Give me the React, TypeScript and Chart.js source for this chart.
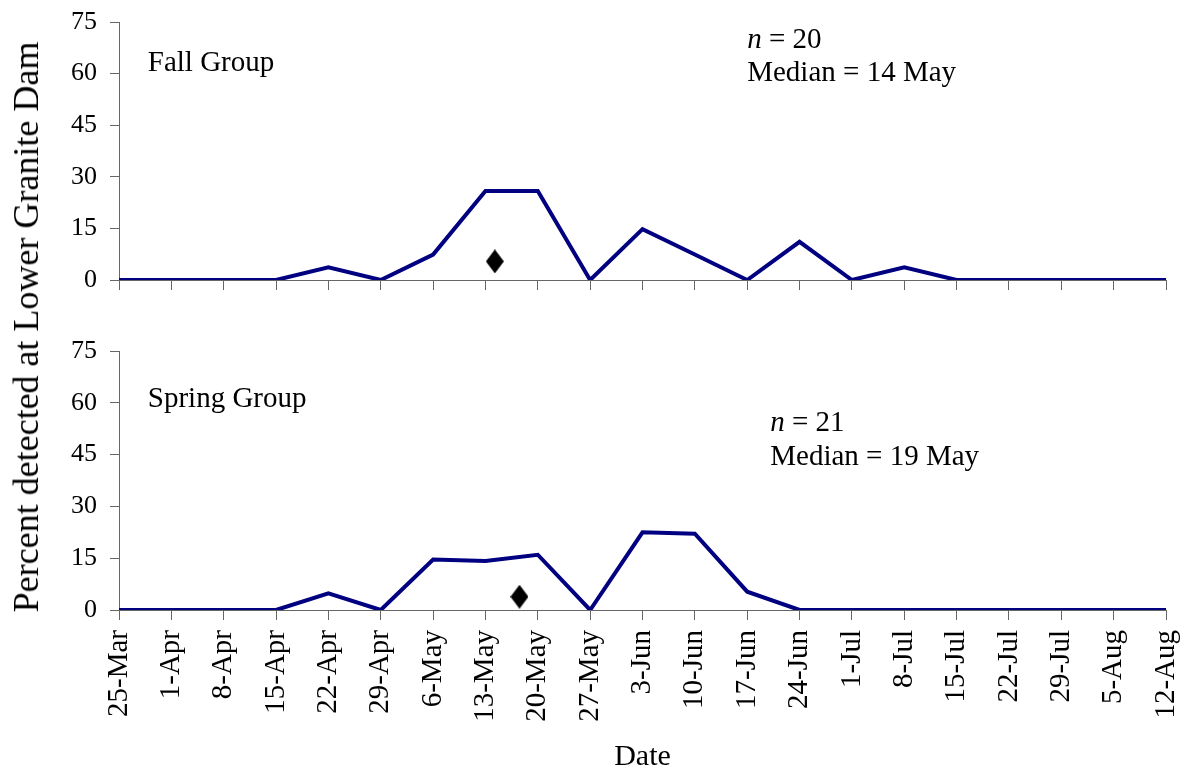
import React, { useEffect, useRef } from 'react';
import { Chart, registerables } from 'chart.js';

Chart.register(...registerables);

// ---- data ----
const dateLabels = [
  '25-Mar', '1-Apr', '8-Apr', '15-Apr', '22-Apr', '29-Apr', '6-May', '13-May', '20-May', '27-May',
  '3-Jun', '10-Jun', '17-Jun', '24-Jun', '1-Jul', '8-Jul', '15-Jul', '22-Jul', '29-Jul', '5-Aug', '12-Aug',
];
const fallValues = [0, 0, 0, 0, 3.7, 0, 7.4, 25.9, 25.9, 0, 14.8, 7.4, 0, 11.1, 0, 3.7, 0, 0, 0, 0, 0];
const springValues = [0, 0, 0, 0, 4.8, 0, 14.6, 14.2, 16.0, 0, 22.5, 22.1, 5.3, 0, 0, 0, 0, 0, 0, 0, 0];
const yTickValues = [0, 15, 30, 45, 60, 75];
// median markers (x in week index units, y in percent)
const fallMedianX = [7.18];
const fallMedianY = [5.4];
const springMedianX = [7.65];
const springMedianY = [3.85];

const fallGroupName = 'Fall Group';
const springGroupName = 'Spring Group';
const fallN = '20';
const springN = '21';
const fallMedianText = 'Median = 14 May';
const springMedianText = 'Median = 19 May';
const yTitle = 'Percent detected at Lower Granite Dam';
const xTitle = 'Date';

const FONT = "'Liberation Serif', 'Times New Roman', Times, serif";
const LINE_COLOR = '#000080';
const AXIS_COLOR = '#666666';

type Note = { x: number; y: number; text: string; italicPrefix?: string };

function makeDiamond(w: number, h: number) {
  const c = document.createElement('canvas');
  c.width = w;
  c.height = h;
  const g = c.getContext('2d')!;
  g.fillStyle = '#000';
  g.beginPath();
  g.moveTo(w / 2, 0);
  g.lineTo(w, h / 2);
  g.lineTo(w / 2, h);
  g.lineTo(0, h / 2);
  g.closePath();
  g.fill();
  return c;
}

function notesPlugin(notes: Note[]) {
  return {
    id: 'notes',
    afterDatasetsDraw(chart: any) {
      const { ctx, scales } = chart;
      ctx.save();
      ctx.fillStyle = '#000';
      ctx.textBaseline = 'alphabetic';
      ctx.textAlign = 'left';
      for (const n of notes) {
        let px = scales.x.getPixelForValue(n.x);
        const py = scales.y.getPixelForValue(n.y);
        if (n.italicPrefix) {
          ctx.font = `italic 29px ${FONT}`;
          ctx.fillText(n.italicPrefix, px, py);
          px += ctx.measureText(n.italicPrefix).width;
        }
        ctx.font = `29px ${FONT}`;
        ctx.fillText(n.text, px, py);
      }
      ctx.restore();
    },
  };
}

function zeroPadding(scale: any) {
  scale.paddingTop = 0;
  scale.paddingBottom = 0;
  scale.paddingLeft = 0;
  scale.paddingRight = 0;
}

function buildConfig(
  values: number[],
  medX: number[],
  medY: number[],
  notes: Note[],
  bottom: boolean,
  canvasHeight: number,
  chartBottom: number,
  topPad: number,
): any {
  const diamond = makeDiamond(18, 24);
  return {
    type: 'line',
    data: {
      datasets: [
        {
          data: values.map((v, i) => ({ x: i, y: v })),
          borderColor: LINE_COLOR,
          borderWidth: 4,
          pointRadius: 0,
          tension: 0,
          fill: false,
          borderJoinStyle: 'miter',
        },
        {
          data: medX.map((x, i) => ({ x, y: medY[i] })),
          showLine: false,
          pointStyle: diamond,
          pointRadius: 10,
          borderWidth: 0,
        },
      ],
    },
    options: {
      animation: false,
      responsive: false,
      events: [],
      layout: { padding: { top: topPad, left: 0, right: 20, bottom: 0 } },
      plugins: { legend: { display: false }, tooltip: { enabled: false } },
      scales: {
        x: {
          type: 'linear',
          min: 0,
          max: dateLabels.length - 1,
          afterBuildTicks: (scale: any) => {
            scale.ticks = dateLabels.map((_, i) => ({ value: i }));
          },
          afterFit: (scale: any) => {
            scale.height = canvasHeight - chartBottom;
            zeroPadding(scale);
          },
          ticks: {
            display: bottom,
            autoSkip: false,
            minRotation: 90,
            maxRotation: 90,
            padding: 10,
            color: '#000',
            font: { family: FONT, size: 29 },
            callback: (v: any) => dateLabels[Math.round(v)] ?? '',
          },
          grid: { display: true, drawOnChartArea: false, drawTicks: true, tickLength: 10, color: AXIS_COLOR },
          border: { display: true, color: AXIS_COLOR, width: 1 },
          title: {
            display: bottom,
            text: xTitle,
            color: '#000',
            font: { family: FONT, size: 30, lineHeight: 1.1 },
            padding: { top: 0, bottom: 0 },
          },
        },
        y: {
          type: 'linear',
          min: 0,
          max: 75,
          afterBuildTicks: (scale: any) => {
            scale.ticks = yTickValues.map((v) => ({ value: v }));
          },
          afterFit: (scale: any) => {
            scale.width = 119;
            zeroPadding(scale);
          },
          ticks: {
            padding: 13,
            color: '#000',
            font: { family: FONT, size: 26 },
          },
          grid: { display: true, drawOnChartArea: false, drawTicks: true, tickLength: 9, color: AXIS_COLOR },
          border: { display: true, color: AXIS_COLOR, width: 1 },
        },
      },
    },
    plugins: [notesPlugin(notes)],
  };
}

export default function App() {
  const topRef = useRef<HTMLCanvasElement>(null);
  const botRef = useRef<HTMLCanvasElement>(null);

  useEffect(() => {
    document.body.style.margin = '0';
    const fallNotes: Note[] = [
      { x: 0.55, y: 60.8, text: fallGroupName },
      { x: 12.0, y: 67.5, italicPrefix: 'n', text: ` = ${fallN}` },
      { x: 12.0, y: 57.8, text: fallMedianText },
    ];
    const springNotes: Note[] = [
      { x: 0.55, y: 58.9, text: springGroupName },
      { x: 12.44, y: 51.9, italicPrefix: 'n', text: ` = ${springN}` },
      { x: 12.44, y: 42.0, text: springMedianText },
    ];
    const top = new Chart(
      topRef.current!,
      buildConfig(fallValues, fallMedianX, fallMedianY, fallNotes, false, 300, 280, 22),
    );
    const bot = new Chart(
      botRef.current!,
      buildConfig(springValues, springMedianX, springMedianY, springNotes, true, 474, 310, 51),
    );
    return () => {
      top.destroy();
      bot.destroy();
    };
  }, []);

  return (
    <div style={{ position: 'relative', width: 1186, height: 774, background: '#fff', overflow: 'hidden' }}>
      <canvas
        ref={topRef}
        width={1186}
        height={300}
        style={{ position: 'absolute', left: 0, top: 0, width: 1186, height: 300 }}
      />
      <canvas
        ref={botRef}
        width={1186}
        height={474}
        style={{ position: 'absolute', left: 0, top: 300, width: 1186, height: 474 }}
      />
      <div
        style={{
          position: 'absolute',
          left: 26,
          top: 327,
          transform: 'translate(-50%, -50%) rotate(-90deg)',
          whiteSpace: 'nowrap',
          fontFamily: FONT,
          fontSize: 36,
          lineHeight: '36px',
          color: '#000',
        }}
      >
        {yTitle}
      </div>
    </div>
  );
}
